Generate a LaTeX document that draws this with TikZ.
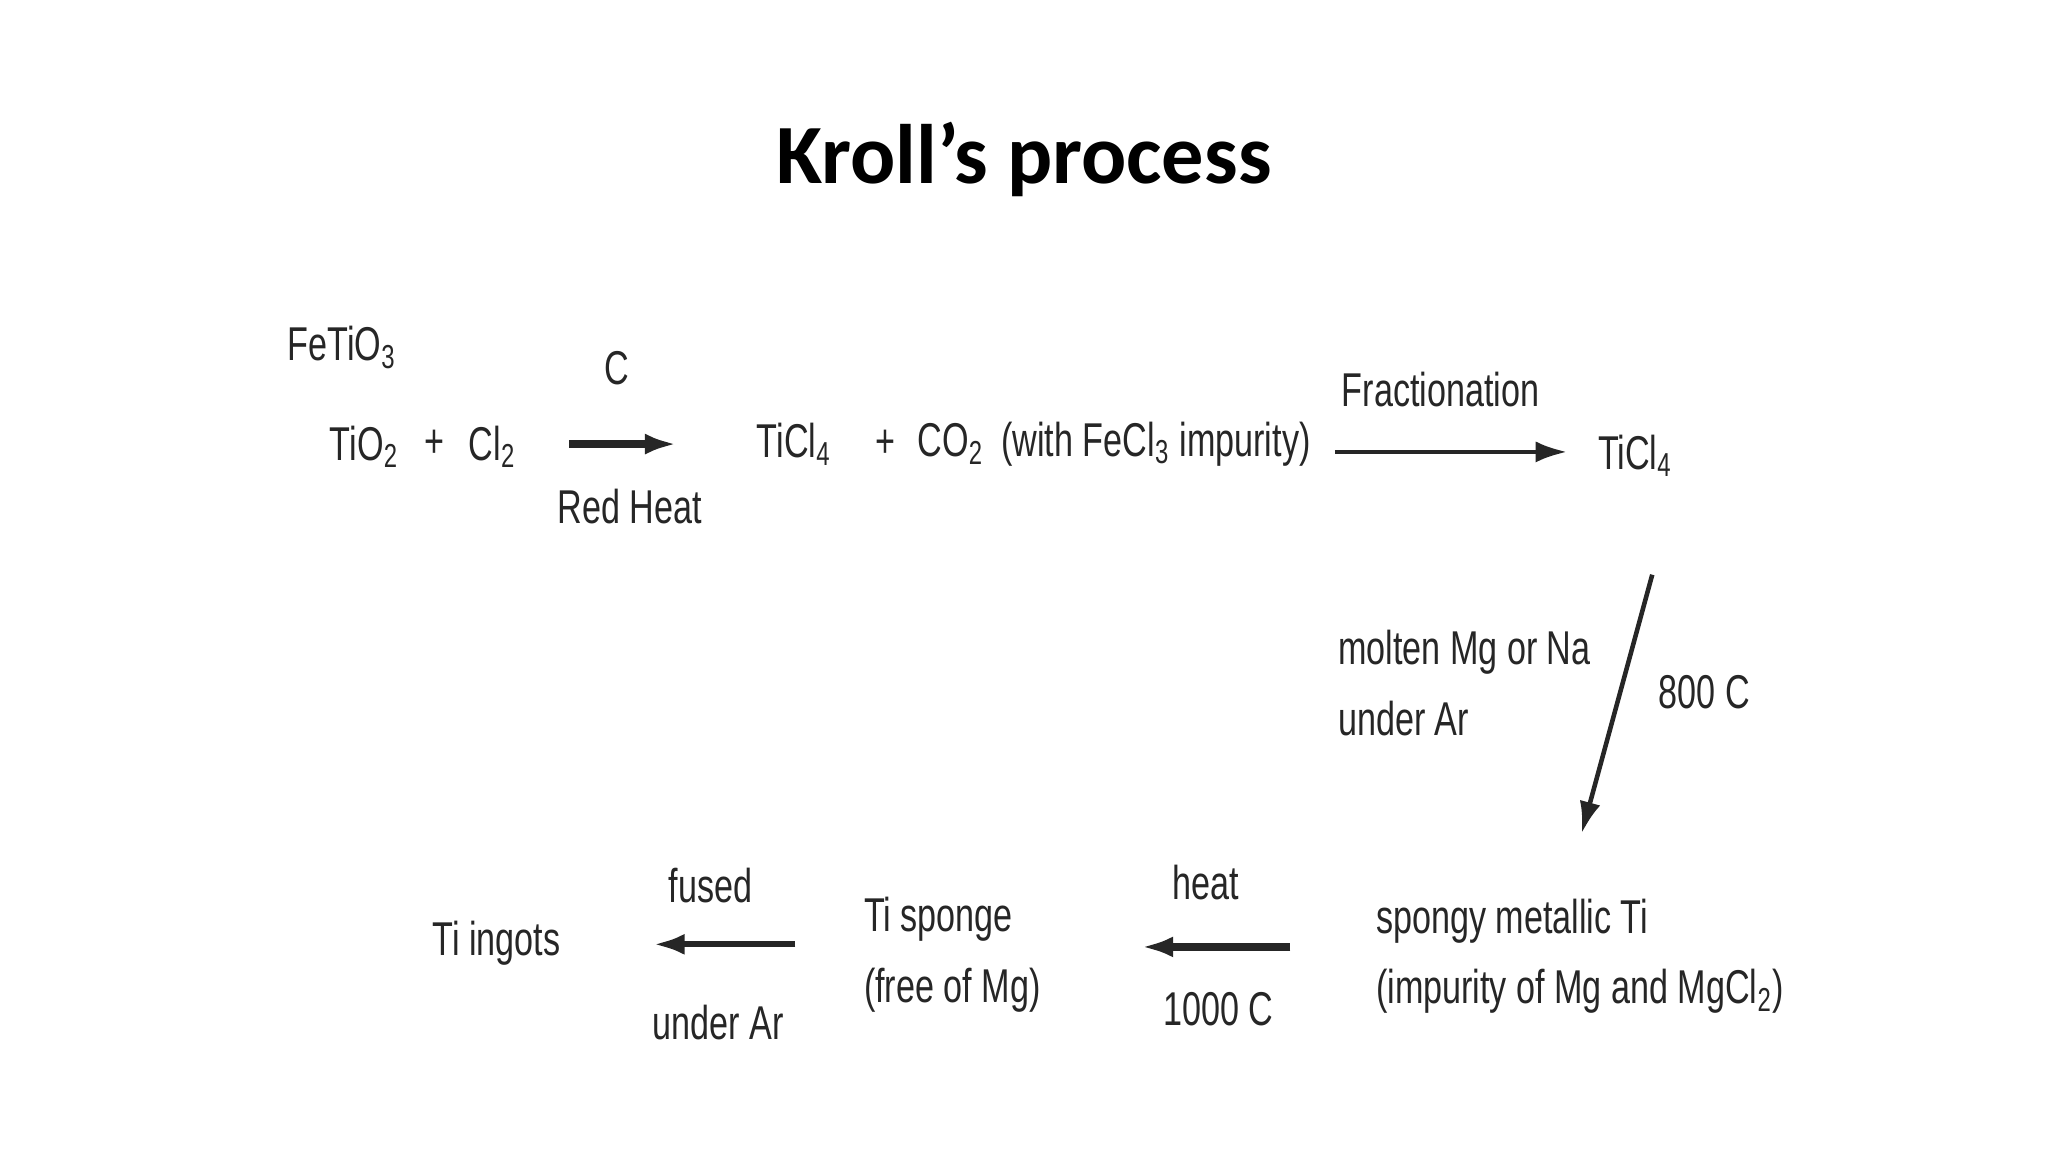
\documentclass[tikz,border=0pt]{standalone}
\usepackage{fontspec}
\setmainfont{Liberation Sans}[FakeStretch=0.72]
\newfontfamily\titlefont{Carlito}
\usetikzlibrary{arrows.meta}
\newcommand{\sbs}[1]{\textsubscript{#1}}
\begin{document}
\begin{tikzpicture}[x=0.01306cm,y=-0.01306cm,
  lbl/.style={inner sep=0pt,font=\fontsize{13.5}{16}\selectfont,text=black!85},
  arr/.style={-{Latex[length=9pt,width=6pt]},line width=1.3pt,black!85},
  thk/.style={-{Latex[length=9pt,width=6pt]},line width=2.2pt,black!85}]
\useasboundingbox (0,0) rectangle (1568,882);
\node[font=\titlefont\bfseries\fontsize{24}{28}\selectfont] (title) at (784,122) {Kroll’s process};
\node[lbl] (fetio) at (262,266) {FeTiO\sbs{3}};
\node[lbl] (tio) at (279,342) {TiO\sbs{2}};
\node[lbl] (p1) at (333,340) {+};
\node[lbl] (cl) at (377,342) {Cl\sbs{2}};
\coordinate (a1s) at (436,340); \coordinate (a1e) at (518,340);
\draw[thk] (a1s) -- (a1e);
\node[lbl] (c) at (472,282) {C};
\node[lbl] (rh) at (482,388) {Red Heat};
\node[lbl] (ticl) at (608,340) {TiCl\sbs{4}};
\node[lbl] (p2) at (678,340) {+};
\node[lbl] (co) at (728,340) {CO\sbs{2}};
\node[lbl] (fe) at (885,340) {(with FeCl\sbs{3} impurity)};
\coordinate (a2s) at (1022,346); \coordinate (a2e) at (1200,346);
\draw[arr] (a2s) -- (a2e);
\node[lbl] (frac) at (1103,298) {Fractionation};
\node[lbl] (ticl2) at (1252,349) {TiCl\sbs{4}};
\coordinate (a3s) at (1265,440); \coordinate (a3e) at (1211,638);
\draw[arr] (a3s) -- (a3e);
\node[lbl,anchor=west,align=left] (mg) at (1024,523) {molten Mg or Na\\[4pt]under Ar};
\node[lbl] (t800) at (1305,530) {800 C};
\node[lbl,anchor=west,align=left] (spongy) at (1053,732) {spongy metallic Ti\\[4pt](impurity of Mg and MgCl\sbs{2})};
\coordinate (a4s) at (988,725); \coordinate (a4e) at (874,725);
\draw[thk] (a4s) -- (a4e);
\node[lbl] (heat) at (923,676) {heat};
\node[lbl] (t1000) at (933,773) {1000 C};
\node[lbl,anchor=west,align=left] (sponge) at (661,731) {Ti sponge\\[4pt](free of Mg)};
\coordinate (a5s) at (609,723); \coordinate (a5e) at (500,723);
\draw[arr,line width=1.8pt] (a5s) -- (a5e);
\node[lbl] (fused) at (544,678) {fused};
\node[lbl] (uar) at (550,783) {under Ar};
\node[lbl] (ingots) at (380,722) {Ti ingots};
\end{tikzpicture}
\end{document}
